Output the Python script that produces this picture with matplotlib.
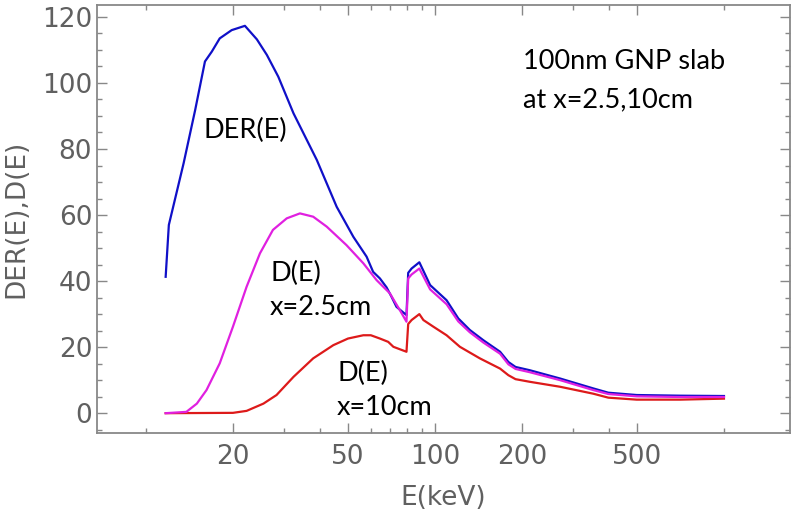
import numpy as np
import matplotlib.pyplot as plt
from matplotlib.ticker import FixedLocator, NullFormatter, FixedFormatter

# ==========================================
# 数据
# ==========================================
der_E = [11.7, 12.0, 13.5, 14.8, 16.0, 16.9, 18.0, 19.8, 22.0, 24.2, 26.2, 28.7, 32.4, 39.0, 45.7,
         52.2, 58.0, 61.1, 64.5, 68.0, 70.8, 73.6, 79.7, 80.8, 83.0, 88.3, 96.2, 109.7,
         120.4, 132, 147, 168, 179.5, 190, 213, 271, 353, 398, 499, 705, 1000]
der_val = [41.3, 57.0, 75.7, 91.8, 106.5, 109.5, 113.5, 116.0, 117.3, 113.2, 108.5, 101.9, 90.8, 76.7, 62.5,
           53.4, 47.4, 42.8, 40.8, 38.1, 35.2, 32.2, 29.7, 42.5, 43.8, 45.7, 38.8, 34.2,
           28.7, 25.2, 22.1, 18.6, 15.5, 14.0, 13.0, 10.5, 7.5, 6.2, 5.5, 5.3, 5.2]

d25_E = [11.7, 13.8, 15.0, 16.2, 18.0, 20.0, 22.3, 24.8, 27.5, 30.7, 34.1, 37.9, 42.2,
         49.4, 56.5, 62.8, 69.8, 75.6, 79.7, 80.8, 83.0, 88.3, 96.2, 109.7,
         120.4, 132, 147, 168, 179.5, 190, 213, 271, 353, 398, 499, 705, 1000]
d25_val = [0.0, 0.4, 2.9, 7.0, 15.1, 26.2, 38.3, 48.4, 55.5, 59.0, 60.5, 59.5, 56.5,
           50.9, 45.4, 40.3, 36.3, 31.2, 27.7, 40.8, 42.0, 43.8, 37.5, 33.0,
           27.8, 24.5, 21.4, 18.0, 14.8, 13.4, 12.4, 10.0, 7.0, 5.8, 5.1, 4.9, 4.9]

d10_E = [11.7, 20.0, 22.3, 25.5, 28.3, 32.4, 37.9, 44.5, 50.0, 56.5, 60.0, 64.5, 68.9,
         71.8, 79.7, 80.8, 83.0, 88.3, 91.2, 98.7, 109.7, 122, 143, 168, 179.5, 190,
         213, 271, 353, 398, 499, 705, 1000]
d10_val = [0.0, 0.1, 0.7, 2.9, 5.5, 11.0, 16.6, 20.6, 22.6, 23.6, 23.6, 22.6, 21.6,
           20.1, 18.6, 27.0, 28.2, 30.0, 28.2, 26.2, 23.6, 20.1, 16.6, 13.5, 11.5, 10.3,
           9.5, 8.0, 5.9, 4.7, 4.1, 4.1, 4.4]

x_major = [20, 50, 100, 200, 500]
x_minor = [10, 30, 40, 60, 70, 80, 90, 300, 400, 1000]
y_major = [0, 20, 40, 60, 80, 100, 120]
y_minor = list(range(-5, 125, 5))

GRAY = '#606060'
ANNO_FONT = ['Lato', 'DejaVu Sans']
ANNO_SIZE = 19.5

fig = plt.figure(figsize=(7.97, 5.18), dpi=100)
ax = fig.add_axes([0.1217, 0.1641, 0.991 - 0.1217, 0.9903 - 0.1641])

ax.plot(d10_E, d10_val, color='#dd1a1a', linewidth=1.6, zorder=3)
ax.plot(d25_E, d25_val, color='#e020e0', linewidth=1.6, zorder=4)
ax.plot(der_E, der_val, color='#1010c8', linewidth=1.6, zorder=2)

ax.set_xscale('log')
ax.set_xlim(6.77, 1690)
ax.set_ylim(-6, 123.6)

ax.xaxis.set_major_locator(FixedLocator(x_major))
ax.xaxis.set_major_formatter(FixedFormatter([str(v) for v in x_major]))
ax.xaxis.set_minor_locator(FixedLocator(x_minor))
ax.xaxis.set_minor_formatter(NullFormatter())
ax.yaxis.set_major_locator(FixedLocator(y_major))
ax.yaxis.set_minor_locator(FixedLocator(y_minor))

ax.tick_params(which='both', direction='in', top=True, right=True, color='#888888',
               labelcolor=GRAY, labelsize=19, width=1.0)
ax.tick_params(which='major', length=7)
ax.tick_params(which='minor', length=3.5)
ax.tick_params(axis='x', pad=8)
for sp in ax.spines.values():
    sp.set_color('#888888')
    sp.set_linewidth(1.3)

ax.set_xlabel('E(keV)', fontsize=19, color=GRAY, labelpad=11)
ax.set_ylabel('DER(E),D(E)', fontsize=19, color=GRAY, labelpad=9)

# 曲线标注
anno = dict(fontsize=ANNO_SIZE, family=ANNO_FONT, va='center')
ax.text(22.0, 85.5, 'DER(E)', ha='center', **anno)
ax.text(26.9, 42.4, 'D(E)', ha='left', **anno)
ax.text(26.9, 32.1, 'x=2.5cm', ha='left', **anno)
ax.text(46.1, 12.1, 'D(E)', ha='left', **anno)
ax.text(45.7, 1.8, 'x=10cm', ha='left', **anno)
ax.text(201, 106.4, '100nm GNP slab', ha='left', **anno)
ax.text(201, 94.8, 'at x=2.5,10cm', ha='left', **anno)

fig.savefig('out.png', dpi=100)
